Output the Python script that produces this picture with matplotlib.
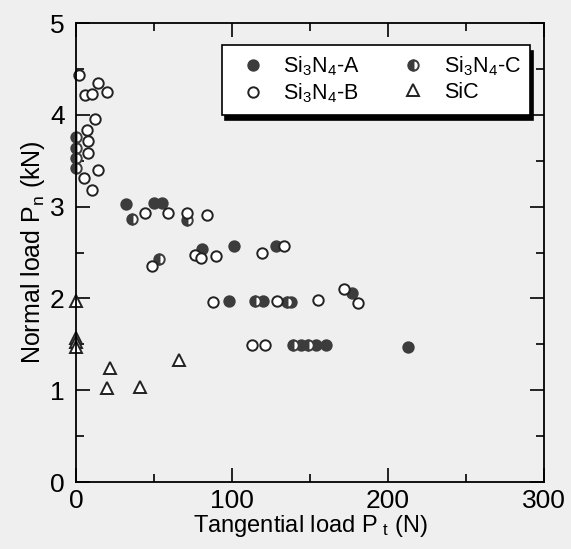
import matplotlib
matplotlib.use('Agg')
import matplotlib.pyplot as plt
from matplotlib.ticker import MultipleLocator

plt.rcParams['font.family'] = ['Liberation Sans', 'DejaVu Sans']
plt.rcParams['mathtext.default'] = 'regular'

# Si3N4-A (filled)
a_pt = [32, 50, 55, 81, 101, 128, 98, 120, 138, 177, 144, 154, 160, 213]
a_pn = [3.03, 3.04, 3.04, 2.54, 2.57, 2.57, 1.97, 1.97, 1.96, 2.06, 1.49, 1.49, 1.49, 1.47]

# Si3N4-B (open)
b_pt = [2, 14, 6, 10, 20, 12, 7, 8, 8, 14, 5, 10,
        44, 59, 71, 84,
        49, 76, 80, 90, 119, 133,
        88, 129, 155, 172, 181,
        113, 121]
b_pn = [4.43, 4.35, 4.22, 4.23, 4.25, 3.95, 3.83, 3.71, 3.58, 3.40, 3.31, 3.18,
        2.93, 2.93, 2.93, 2.91,
        2.35, 2.47, 2.44, 2.46, 2.50, 2.57,
        1.96, 1.97, 1.98, 2.10, 1.95,
        1.49, 1.49]

# Si3N4-C (half filled)
c_pt = [0, 0, 0, 0, 36, 71, 53, 115, 135, 139, 149]
c_pn = [3.76, 3.64, 3.53, 3.42, 2.86, 2.85, 2.43, 1.97, 1.96, 1.49, 1.49]

# SiC (triangles)
s_pt = [0, 0, 0, 0, 22, 20, 41, 66]
s_pn = [1.97, 1.57, 1.52, 1.47, 1.24, 1.02, 1.04, 1.33]

bg = '#efefef'
dark = '#3c3c3c'

fig = plt.figure(figsize=(5.71, 5.49), dpi=100, facecolor=bg)
ax = fig.add_axes([0.133, 0.122, 0.82, 0.836], facecolor=bg)

ms = 7.5
ax.plot(a_pt, a_pn, 'o', ms=ms, mfc=dark, mec=dark, mew=1.4, label='Si$_3$N$_4$-A', clip_on=False)
ax.plot(c_pt, c_pn, 'o', ms=ms, mfc=dark, mec=dark, mew=1.4, fillstyle='left',
        markerfacecoloralt='white', label='Si$_3$N$_4$-C', clip_on=False)
ax.plot(b_pt, b_pn, 'o', ms=ms, mfc='white', mec='#222222', mew=1.4, label='Si$_3$N$_4$-B', clip_on=False)
ax.plot(s_pt, s_pn, '^', ms=8.5, mfc='white', mec='#222222', mew=1.4, label='SiC', clip_on=False)

ax.set_xlim(0, 300)
ax.set_ylim(0, 5)
ax.xaxis.set_major_locator(MultipleLocator(100))
ax.xaxis.set_minor_locator(MultipleLocator(50))
ax.yaxis.set_major_locator(MultipleLocator(1))
ax.yaxis.set_minor_locator(MultipleLocator(0.5))
ax.tick_params(which='both', direction='in', top=True, right=True, labelsize=19, width=1.2)
ax.tick_params(which='major', length=10)
ax.tick_params(axis='x', which='major', pad=5)
ax.tick_params(axis='y', which='major', pad=8)
ax.tick_params(which='minor', length=5.5)
for sp in ax.spines.values():
    sp.set_linewidth(1.3)

ax.set_xlabel('Tangential load P$_{\\ t}$ (N)', fontsize=17, labelpad=0)
ax.set_ylabel('Normal load P$_n$ (kN)', fontsize=18, labelpad=2)

h, l = ax.get_legend_handles_labels()
order = [0, 2, 1, 3]
leg = ax.legend([h[i] for i in order], [l[i] for i in order], ncol=2, loc='upper right',
                bbox_to_anchor=(0.970, 0.952), borderaxespad=0, fontsize=15.5, frameon=True,
                fancybox=False, edgecolor='black', facecolor='white', framealpha=1,
                shadow={'color': 'black', 'alpha': 1, 'ox': 2, 'oy': -4},
                handlelength=2.0, handletextpad=0.4, columnspacing=1.5, borderpad=0.45,
                labelspacing=0.15, markerscale=1.0)
leg.get_frame().set_linewidth(1.2)

fig.savefig('out.png', dpi=100, facecolor=bg)
